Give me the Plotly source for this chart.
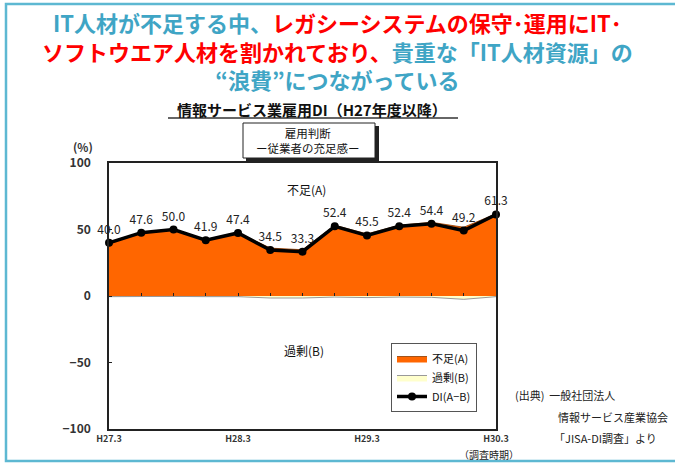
import plotly.graph_objects as go

# ---- data ----
periods = ["H27.3", "H27.6", "H27.9", "H27.12", "H28.3", "H28.6", "H28.9", "H28.12",
           "H29.3", "H29.6", "H29.9", "H29.12", "H30.3"]
di_values = [40.0, 47.6, 50.0, 41.9, 47.4, 34.5, 33.3, 52.4, 45.5, 52.4, 54.4, 49.2, 61.3]
shortage_a = [40.5, 47.9, 50.3, 42.4, 47.9, 36.0, 34.8, 53.2, 46.7, 53.2, 55.4, 51.7, 61.8]
excess_b = [0.5, 0.3, 0.3, 0.5, 0.5, 1.5, 1.5, 0.8, 1.2, 0.8, 1.0, 2.5, 0.5]
tick_labels = ["H27.3", "H28.3", "H29.3", "H30.3"]
y_ticks = [-100, -50, 0, 50, 100]

W, H = 675, 464
L, R, T, B = 109, 179, 163, 35
PW, PH = W - L - R, H - T - B


def px(x):
    return (x - L) / PW


def py(y):
    return (H - B - y) / PH


idx = list(range(len(periods)))
JP = "Noto Sans CJK JP"

fig = go.Figure()
fig.add_trace(go.Scatter(
    x=idx, y=shortage_a, name="不足(A)", mode="lines", fill="tozeroy",
    fillcolor="#ff6600", line=dict(color="#8a3a00", width=0.8),
    hoverinfo="skip"))
fig.add_trace(go.Scatter(
    x=idx, y=[-v for v in excess_b], name="過剰(B)", mode="lines", fill="tozeroy",
    fillcolor="#ffffcc", line=dict(color="#999999", width=1), xaxis="x2",
    hoverinfo="skip"))
fig.add_trace(go.Scatter(
    x=idx, y=di_values, name="DI(A−B)", mode="lines+markers+text",
    line=dict(color="black", width=3.5), marker=dict(color="black", size=8),
    text=[f"{v:.1f}" for v in di_values], textposition="top center",
    cliponaxis=False,
    textfont=dict(family=JP, size=12, color="#222222")))

ann = []
title_teal = "#3fa5c5"
title_red = "#ff0000"
title_text = (
    f"<b><span style='color:{title_teal}'>IT人材が不足する中、</span>"
    f"<span style='color:{title_red}'>レガシーシステムの保守･運用にIT･</span><br>"
    f"<span style='color:{title_red}'>ソフトウエア人材を割かれており、</span>"
    f"<span style='color:{title_teal}'>貴重な「IT人材資源」の</span><br>"
    f"<span style='color:{title_teal}'>“浪費”につながっている</span></b>"
)
ann.append(dict(text=title_text, x=px(337), y=py(50), xref="paper", yref="paper",
                xanchor="center", yanchor="middle", align="center", showarrow=False,
                font=dict(family=JP, size=22)))

ann.append(dict(text="<b>情報サービス業雇用DI（H27年度以降）</b>", x=px(312), y=py(109),
                xref="paper", yref="paper", xanchor="center", yanchor="middle",
                showarrow=False, font=dict(family=JP, size=15, color="#111111")))
ann.append(dict(text="雇用判断<br>ー従業者の充足感ー", x=px(308), y=py(140.5),
                xref="paper", yref="paper", xanchor="center", yanchor="middle",
                align="center", showarrow=False,
                font=dict(family=JP, size=11.5, color="#111111")))
ann.append(dict(text="<b>(%)</b>", x=px(83), y=py(147), xref="paper", yref="paper",
                xanchor="center", yanchor="middle", showarrow=False,
                font=dict(family=JP, size=11.5, color="#333333")))
ann.append(dict(text="不足(A)", x=px(306), y=py(189), xref="paper", yref="paper",
                xanchor="center", yanchor="middle", showarrow=False,
                font=dict(family=JP, size=12, color="#111111")))
ann.append(dict(text="過剰(B)", x=px(304), y=py(350), xref="paper", yref="paper",
                xanchor="center", yanchor="middle", showarrow=False,
                font=dict(family=JP, size=12, color="#111111")))
ann.append(dict(text="（調査時期）", x=px(489), y=py(454), xref="paper", yref="paper",
                xanchor="center", yanchor="middle", showarrow=False,
                font=dict(family=JP, size=10, color="#222222")))
src = [("(出典)  一般社団法人", 513, 395), ("情報サービス産業協会", 556, 417),
       ("「JISA-DI調査」より", 552, 438)]
for txt, x, y in src:
    ann.append(dict(text=txt, x=px(x), y=py(y), xref="paper", yref="paper",
                    xanchor="left", yanchor="middle", showarrow=False,
                    font=dict(family=JP, size=11, color="#222222")))

shapes = [
    # outer teal frame
    dict(type="rect", xref="paper", yref="paper", x0=px(6), x1=px(690), y0=py(461), y1=py(4),
         line=dict(color="#5db8d2", width=2.5), layer="above"),
    # title underline
    dict(type="line", xref="paper", yref="paper", x0=px(168), x1=px(458), y0=py(118), y1=py(118),
         line=dict(color="#333333", width=1.5)),
    # box shadow
    dict(type="rect", xref="paper", yref="paper", x0=px(246), x1=px(379), y0=py(161), y1=py(126),
         fillcolor="#222222", line=dict(width=0)),
    dict(type="rect", xref="paper", yref="paper", x0=px(243), x1=px(375), y0=py(158), y1=py(123),
         fillcolor="white", line=dict(color="#222222", width=1)),
]

fig.update_layout(
    width=W, height=H, margin=dict(l=L, r=R, t=T, b=B),
    paper_bgcolor="white", plot_bgcolor="white",
    font=dict(family=JP, color="#222222"),
    annotations=ann, shapes=shapes,
    showlegend=True,
    legend=dict(x=px(477), y=py(412), xanchor="right", yanchor="bottom",
                bgcolor="white", bordercolor="#555555", borderwidth=1,
                font=dict(family=JP, size=11, color="#111111"),
                itemwidth=30, tracegroupgap=0),
    xaxis=dict(range=[0, 12], tickvals=[0, 4, 8, 12],
               ticktext=[f"<b>{t}</b>" for t in tick_labels],
               tickfont=dict(family=JP, size=9, color="#333333"),
               showline=True, mirror=True, linecolor="#222222", linewidth=1.5,
               showgrid=False, zeroline=False, ticks=""),
    xaxis2=dict(range=[0, 12], overlaying="x", anchor="free", position=0.5,
                tickvals=idx, ticks="inside", ticklen=3, tickcolor="#222222",
                showticklabels=False, showline=False, showgrid=False, zeroline=False),
    yaxis=dict(range=[-100, 100], tickvals=y_ticks,
               ticktext=[f"<b>{str(v).replace('-', '−')}</b>" for v in y_ticks],
               tickfont=dict(family=JP, size=12, color="#333333"),
               ticklabelstandoff=14,
               showline=True, mirror=True, linecolor="#222222", linewidth=1.5,
               showgrid=False, zeroline=True, zerolinecolor="#222222", zerolinewidth=1,
               ticks="inside", ticklen=3, tickcolor="#222222"),
)

fig.write_html("out.html", config={"displayModeBar": False},
               post_script="document.body.style.margin='0';document.body.style.overflow='hidden';")
